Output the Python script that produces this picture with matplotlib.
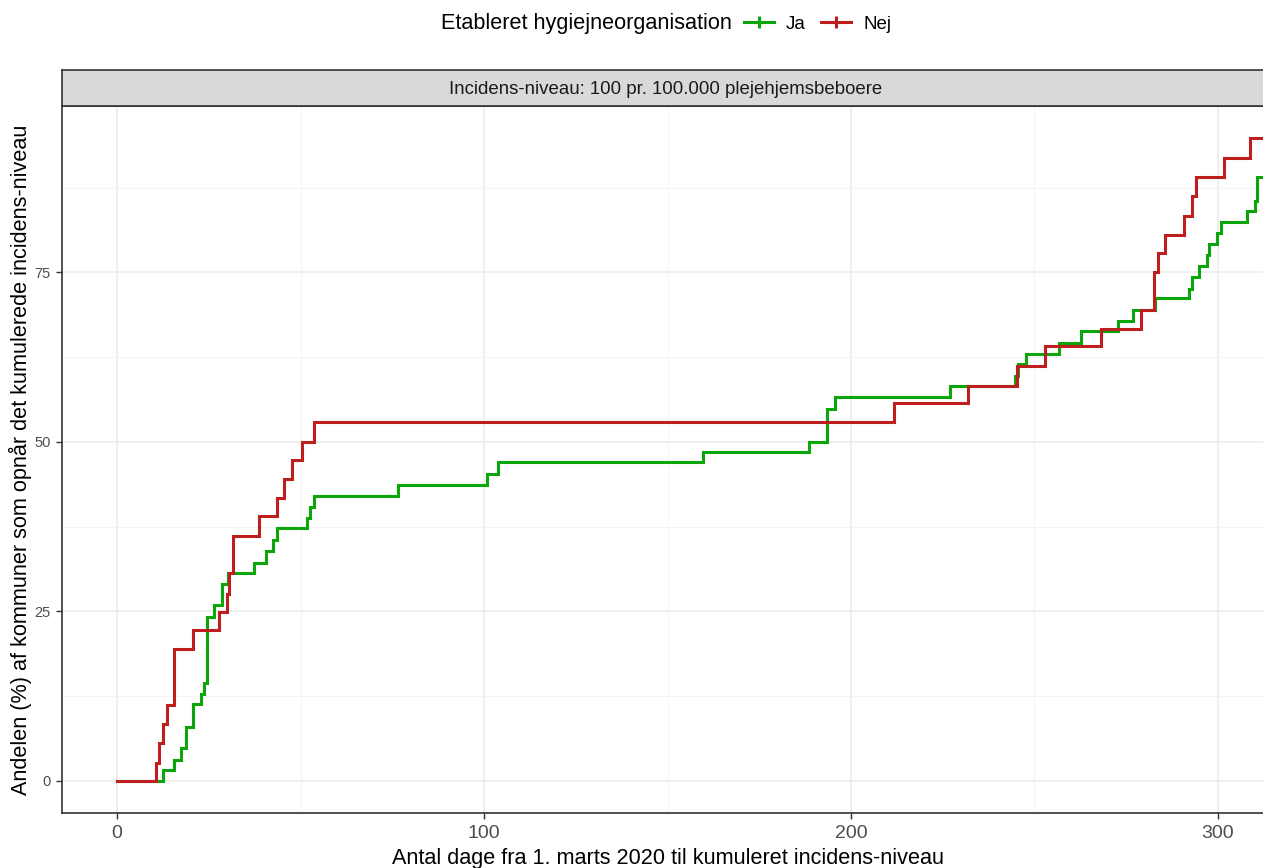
import numpy as np
import matplotlib
matplotlib.use('Agg')
import matplotlib.pyplot as plt
from matplotlib.lines import Line2D

plt.rcParams['font.family'] = ['Liberation Sans', 'DejaVu Sans']

# days from 1 march 2020 where the curve steps up, and the share (%) after the step
days_ja = [0, 12.6, 15.5, 17.5, 18.8, 20.8, 22.9, 23.6, 24.4, 26.5,
           28.5, 30.3, 37.4, 40.6, 42.6, 43.5, 51.8, 52.6, 53.8, 76.5,
           100.7, 103.9, 159.8, 188.6, 193.6, 195.6, 227.0, 244.7, 245.6, 247.6,
           256.7, 262.7, 272.8, 276.9, 282.8, 292.1, 292.8, 294.9, 296.9, 297.6,
           299.8, 300.8, 307.8, 310.1, 310.7, 320]
vals_ja = [0, 1.6, 3.1, 4.8, 8.0, 11.3, 12.8, 14.5, 24.2, 25.9,
           29.1, 30.6, 32.2, 33.9, 35.5, 37.3, 38.8, 40.4, 42.0, 43.7,
           45.3, 47.0, 48.5, 50.0, 54.8, 56.6, 58.2, 59.7, 61.5, 63.0,
           64.6, 66.3, 67.8, 69.4, 71.2, 72.6, 74.3, 76.0, 77.5, 79.2,
           80.8, 82.4, 84.1, 85.6, 89.0, 89.0]

days_nej = [0, 10.5, 11.4, 12.6, 13.5, 15.4, 20.8, 27.8, 29.9, 30.5,
            31.7, 38.8, 43.5, 45.5, 47.6, 50.4, 53.8, 211.8, 231.8, 245.3,
            252.9, 268.0, 279.1, 282.6, 283.7, 285.7, 290.7, 292.8, 293.9, 301.6,
            308.7, 320]
vals_nej = [0, 2.7, 5.6, 8.4, 11.2, 19.4, 22.3, 24.9, 27.6, 30.6,
            36.1, 39.0, 41.7, 44.5, 47.4, 50.0, 52.9, 55.7, 58.3, 61.2,
            64.1, 66.7, 69.5, 75.0, 77.8, 80.5, 83.3, 86.2, 89.0, 91.9,
            94.8, 94.8]

groups = ['Ja', 'Nej']
colors = ['#0AA60A', '#BE1E1E']
x_ticks = [0, 100, 200, 300]
y_ticks = [0, 25, 50, 75]

legend_title = 'Etableret hygiejneorganisation'
strip_text = 'Incidens-niveau: 100 pr. 100.000 plejehjemsbeboere'
x_label = 'Antal dage fra 1. marts 2020 til kumuleret incidens-niveau'
y_label = 'Andelen (%) af kommuner som opnår det kumulerede incidens-niveau'

fig = plt.figure(figsize=(12.63, 8.68), dpi=100)
W, H = 1263.0, 868.0

# panel runs off the right edge like the reference crop
ax = fig.add_axes([62 / W, 1 - 813 / H, 1211 / W, 707 / H])
ax.set_facecolor('white')

for d, v, c in zip([days_ja, days_nej], [vals_ja, vals_nej], colors):
    ax.step(d, v, where='post', color=c, lw=2.2, solid_joinstyle='miter', zorder=3)

ax.set_xlim(-15, 315)
ax.set_ylim(-4.74, 99.54)
ax.set_xticks(x_ticks)
ax.set_yticks(y_ticks)
ax.set_xticks([50, 150, 250], minor=True)
ax.set_yticks([12.5, 37.5, 62.5, 87.5], minor=True)
ax.grid(which='major', color='#EBEBEB', lw=1.1, zorder=0)
ax.grid(which='minor', color='#F2F2F2', lw=0.6, zorder=0)
ax.tick_params(which='minor', length=0)
ax.tick_params(axis='x', which='major', length=4, width=1, color='#333333',
               labelcolor='#4D4D4D', labelsize=14, pad=5)
ax.tick_params(axis='y', which='major', length=4, width=1, color='#333333',
               labelcolor='#4D4D4D', labelsize=10.5, pad=4)
for s in ax.spines.values():
    s.set_color('#333333')
    s.set_linewidth(1.2)

ax.set_xlabel(x_label, fontsize=15.6, color='black', labelpad=4)
ax.set_ylabel(y_label, fontsize=15.6, color='black', labelpad=2)

# facet strip
strip = fig.add_axes([62 / W, 1 - 106 / H, 1211 / W, 36 / H])
strip.set_facecolor('#D9D9D9')
strip.set_xticks([])
strip.set_yticks([])
for s in strip.spines.values():
    s.set_color('#333333')
    s.set_linewidth(1.2)
fig.text(666 / W, 1 - 89 / H, strip_text, ha='center', va='center',
         fontsize=13.4, color='#1A1A1A')

# legend on top, title to the left of the keys
fig.text(441 / W, 1 - 24 / H, legend_title, ha='left', va='center', fontsize=15.6)
handles = [Line2D([0], [0], color=c, lw=2.2, marker='+', markersize=8,
                  markeredgewidth=2.2) for c in colors]
fig.legend(handles, groups, loc='center left', bbox_to_anchor=(744 / W, 1 - 24 / H),
           ncol=2, frameon=False, fontsize=13.5, handlelength=1.6,
           handletextpad=0.65, columnspacing=0.8, borderpad=0, borderaxespad=0)

fig.savefig('out.png', dpi=100)
